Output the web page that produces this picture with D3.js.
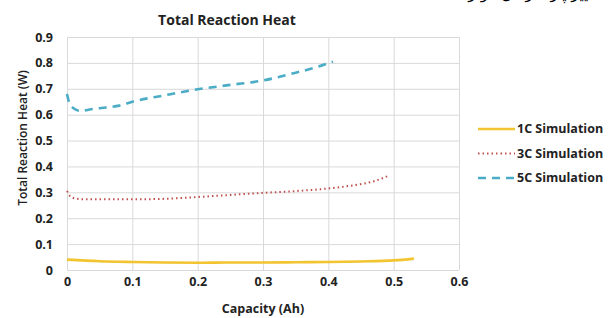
<!DOCTYPE html>
<html>
<head>
<meta charset="utf-8">
<script src="https://cdn.jsdelivr.net/npm/d3@7"></script>
<style>
    body { margin: 0; background: #fff; }
    svg { display: block; }
</style>
</head>
<body>
<div id="chart"></div>
<script>
    // values
    var cap1 = [0, 0.05, 0.1, 0.15, 0.2, 0.25, 0.3, 0.35, 0.4, 0.45, 0.5, 0.531],
        heat1 = [0.04, 0.034, 0.031, 0.029, 0.028, 0.029, 0.029, 0.03, 0.031, 0.033, 0.037, 0.044];
    var cap3 = [0, 0.005, 0.015, 0.03, 0.06, 0.1, 0.15, 0.2, 0.25, 0.3, 0.35, 0.4, 0.44, 0.47, 0.493],
        heat3 = [0.305, 0.285, 0.275, 0.273, 0.273, 0.273, 0.275, 0.282, 0.29, 0.298, 0.305, 0.315, 0.328, 0.343, 0.365];
    var cap5 = [0, 0.003, 0.01, 0.02, 0.04, 0.06, 0.08, 0.1, 0.15, 0.2, 0.25, 0.3, 0.35, 0.38, 0.407],
        heat5 = [0.68, 0.65, 0.625, 0.615, 0.622, 0.628, 0.635, 0.65, 0.675, 0.698, 0.715, 0.732, 0.762, 0.782, 0.805];
    var seriesNames = ["1C Simulation", "3C Simulation", "5C Simulation"];
    var xTicks = [0, 0.1, 0.2, 0.3, 0.4, 0.5, 0.6],
        yTicks = [0, 0.1, 0.2, 0.3, 0.4, 0.5, 0.6, 0.7, 0.8, 0.9];

    var W = 615, H = 318,
        margin = {top: 37, right: 156, bottom: 48, left: 67},
        width = W - margin.left - margin.right,
        height = H - margin.top - margin.bottom,
        font = "'Open Sans', 'DejaVu Sans', sans-serif";

    var styles = [
        {color: "#f2c42f", width: 2.6, dash: null},
        {color: "#c0504d", width: 2, dash: "1.5,3"},
        {color: "#4bacc6", width: 2.6, dash: "8,6"}
    ];

    var series = [
        cap1.map(function (c, i) { return {x: c, y: heat1[i]}; }),
        cap3.map(function (c, i) { return {x: c, y: heat3[i]}; }),
        cap5.map(function (c, i) { return {x: c, y: heat5[i]}; })
    ];

    var svg = d3.select("#chart").append("svg")
        .attr("width", W)
        .attr("height", H)
        .style("font-family", font);

    // text of the page above, cut off at the top edge
    svg.append("text")
        .attr("x", 600)
        .attr("y", -1)
        .attr("text-anchor", "end")
        .style("font-family", "'DejaVu Sans', sans-serif")
        .style("font-size", "15px")
        .attr("fill", "#000")
        .text("تغییر پارامترهای مؤثر");

    var g = svg.append("g")
        .attr("transform", "translate(" + margin.left + "," + margin.top + ")");

    var x = d3.scaleLinear().domain([0, 0.6]).range([0, width]);
    var y = d3.scaleLinear().domain([0, 0.9]).range([height, 0]);

    // grid
    g.append("g")
        .call(d3.axisLeft(y).tickValues(yTicks).tickSize(-width).tickFormat(""))
        .call(function (a) { a.select(".domain").remove(); })
        .selectAll("line").attr("stroke", "#d9d9d9");
    g.append("g")
        .attr("transform", "translate(0," + height + ")")
        .call(d3.axisBottom(x).tickValues(xTicks).tickSize(-height).tickFormat(""))
        .call(function (a) { a.select(".domain").remove(); })
        .selectAll("line").attr("stroke", "#d9d9d9");

    // tick labels
    var yAxis = g.append("g")
        .call(d3.axisLeft(y).tickValues(yTicks).tickSize(0).tickPadding(14)
            .tickFormat(function (d) { return d === 0 ? "0" : d3.format(".1f")(d); }));
    yAxis.select(".domain").remove();
    yAxis.selectAll("text")
        .style("font-family", font)
        .style("font-size", "12.5px")
        .style("font-weight", "bold")
        .attr("fill", "#222");

    var xAxis = g.append("g")
        .attr("transform", "translate(0," + height + ")")
        .call(d3.axisBottom(x).tickValues(xTicks).tickSize(0).tickPadding(7)
            .tickFormat(function (d) { return d === 0 ? "0" : d3.format(".1f")(d); }));
    xAxis.select(".domain").remove();
    xAxis.selectAll("text")
        .style("font-family", font)
        .style("font-size", "12.5px")
        .style("font-weight", "bold")
        .attr("fill", "#222");

    // lines
    var line = d3.line()
        .x(function (d) { return x(d.x); })
        .y(function (d) { return y(d.y); })
        .curve(d3.curveMonotoneX);

    g.selectAll(".series")
        .data(series)
        .enter().append("path")
        .attr("class", "series")
        .attr("d", line)
        .attr("fill", "none")
        .attr("stroke", function (d, i) { return styles[i].color; })
        .attr("stroke-width", function (d, i) { return styles[i].width; })
        .attr("stroke-dasharray", function (d, i) { return styles[i].dash; });

    // titles
    svg.append("text")
        .attr("x", 227)
        .attr("y", 25)
        .attr("text-anchor", "middle")
        .style("font-size", "14px")
        .style("font-weight", "bold")
        .attr("fill", "#222")
        .text("Total Reaction Heat");

    svg.append("text")
        .attr("x", margin.left + width / 2)
        .attr("y", 313)
        .attr("text-anchor", "middle")
        .style("font-size", "12.5px")
        .style("font-weight", "bold")
        .attr("fill", "#222")
        .text("Capacity (Ah)");

    svg.append("text")
        .attr("transform", "translate(27,138) rotate(-90)")
        .attr("text-anchor", "middle")
        .style("font-size", "12px")
        .style("font-weight", "600")
        .attr("fill", "#222")
        .text("Total Reaction Heat (W)");

    // legend
    var legend = svg.selectAll(".legend")
        .data(seriesNames)
        .enter().append("g")
        .attr("class", "legend")
        .attr("transform", function (d, i) { return "translate(478," + (129 + i * 24.5) + ")"; });

    legend.append("line")
        .attr("x1", 0).attr("x2", 37)
        .attr("stroke", function (d, i) { return styles[i].color; })
        .attr("stroke-width", function (d, i) { return styles[i].width; })
        .attr("stroke-dasharray", function (d, i) { return styles[i].dash; });

    legend.append("text")
        .attr("x", 39)
        .attr("dy", "0.35em")
        .style("font-size", "12.5px")
        .style("font-weight", "bold")
        .attr("fill", "#222")
        .text(function (d) { return d; });
</script>
</body>
</html>
